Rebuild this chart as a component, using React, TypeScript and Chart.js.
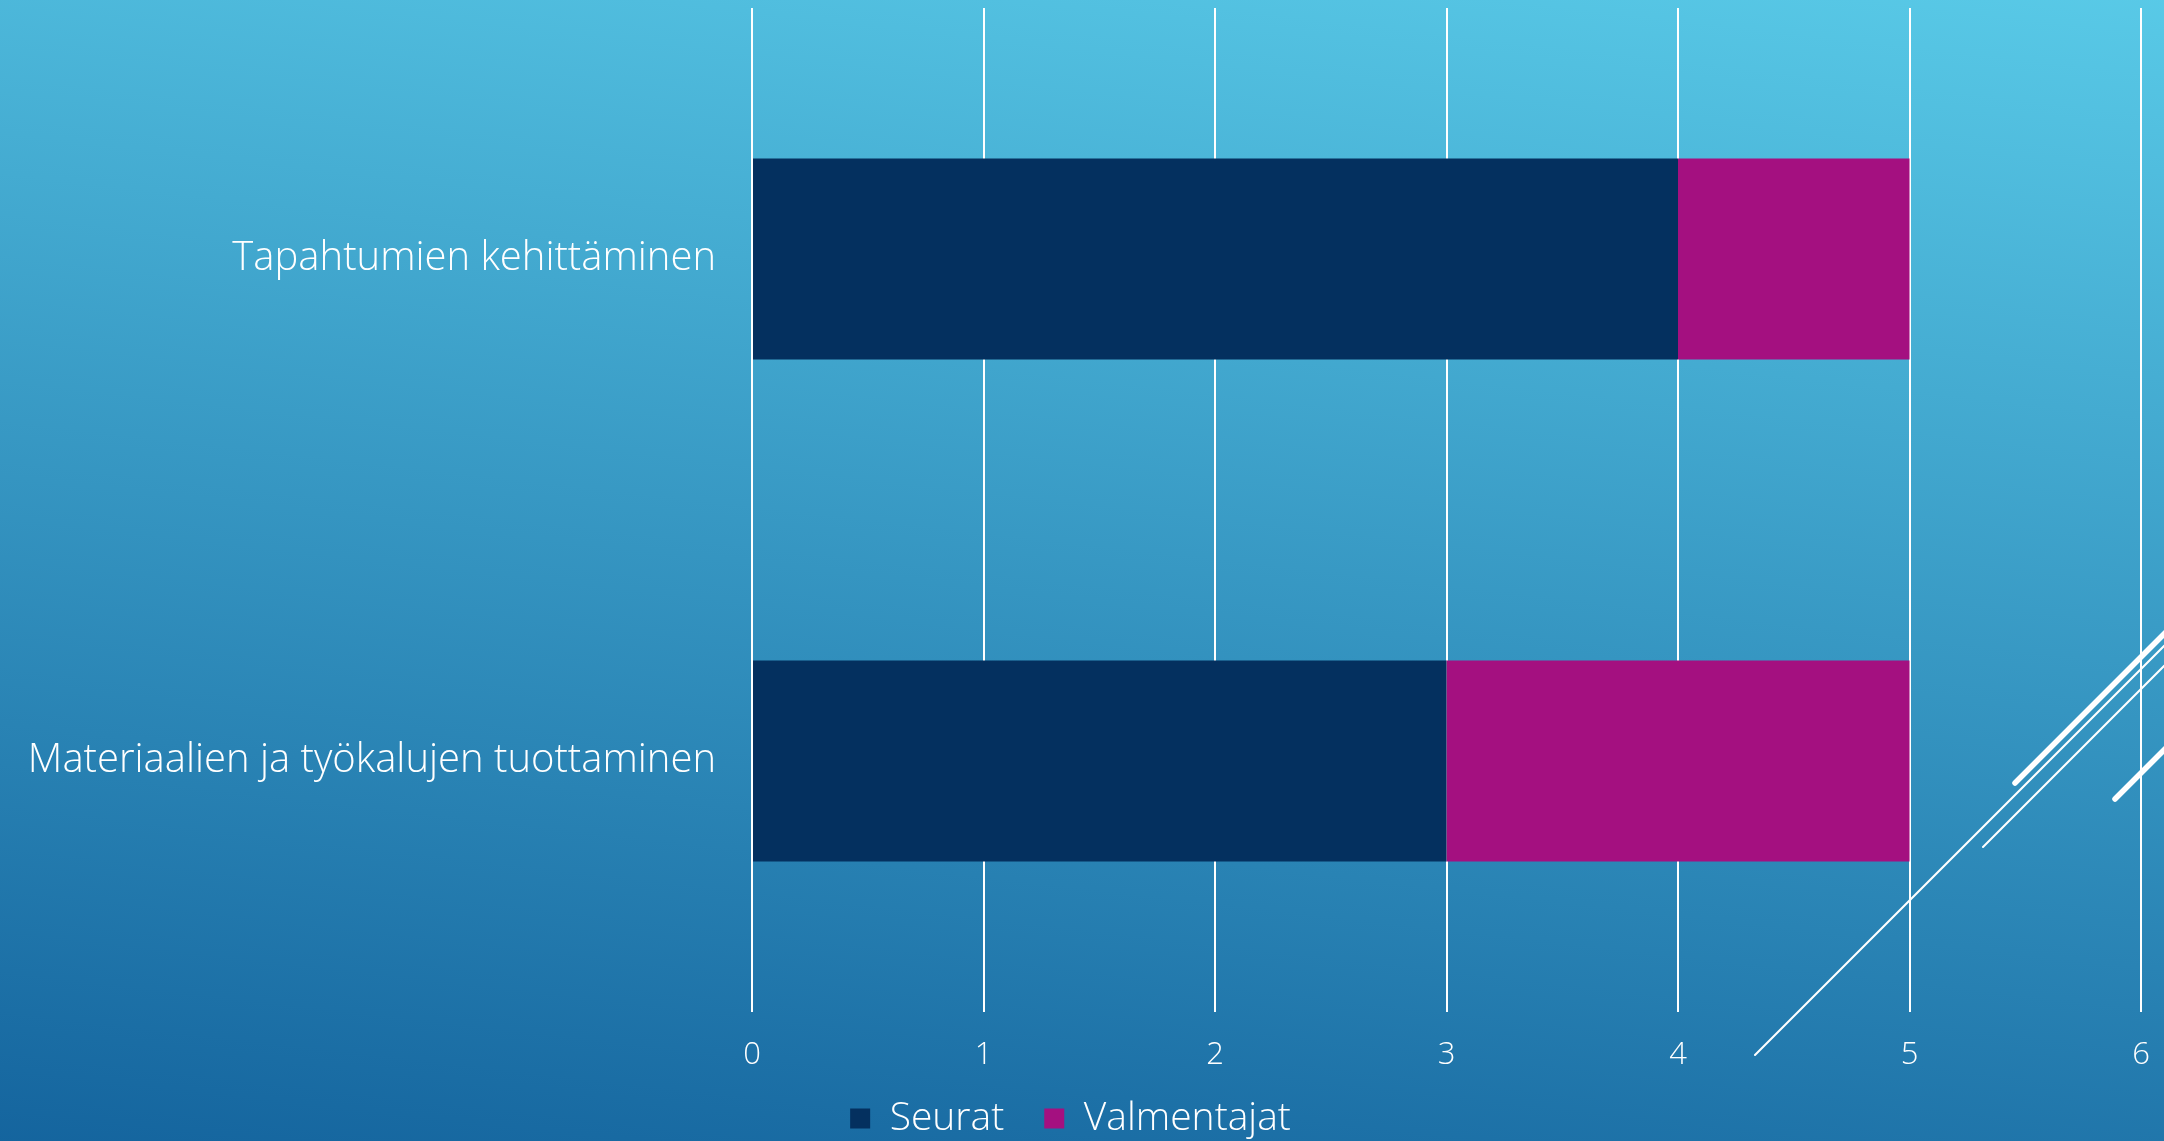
import React, { useEffect, useRef } from "react";
import { Chart, registerables } from "chart.js";

Chart.register(...registerables);

// ---- data ----
const categories = ["Tapahtumien kehittäminen", "Materiaalien ja työkalujen tuottaminen"];
const seriesNames = ["Seurat", "Valmentajat"];
const seuratValues = [4, 3];
const valmentajatValues = [1, 2];
const xMin = 0;
const xMax = 6;
const xStep = 1;

// ---- styles ----
const W = 2164;
const H = 1141;
const FONT = "'Open Sans', Lato, 'DejaVu Sans', sans-serif";
const seriesColors = ["#04305F", "#A41080"];

const clamp = (v: number) => Math.max(0, Math.min(255, Math.round(v)));

const backgroundPlugin = {
  id: "slideBackground",
  beforeDraw(chart: any) {
    const { ctx, width, height } = chart;
    const p0 = { x: width * 0.53, y: 0 };
    const p1 = { x: width * 0.47, y: height };
    const ext = 0.25;
    const dx = p1.x - p0.x;
    const dy = p1.y - p0.y;
    const c0 = [83, 193, 225];
    const c1 = [26, 109, 164];
    const at = (t: number) =>
      `rgb(${c0.map((v, i) => clamp(v + (c1[i] - v) * t)).join(",")})`;
    const g = ctx.createLinearGradient(
      p0.x - dx * ext,
      p0.y - dy * ext,
      p1.x + dx * ext,
      p1.y + dy * ext
    );
    g.addColorStop(0, at(-ext));
    g.addColorStop(1, at(1 + ext));
    ctx.save();
    ctx.fillStyle = g;
    ctx.fillRect(0, 0, width, height);
    ctx.restore();
  },
};

// decorative template strokes (slide design, not data)
const decorLines = [
  { x0: 1755, y0: 1055, len: 460, w: 2 },
  { x0: 2015, y0: 783, len: 200, w: 5.5 },
  { x0: 1983, y0: 847, len: 260, w: 2 },
  { x0: 2115, y0: 799, len: 100, w: 5.5 },
];

const decorPlugin = {
  id: "slideDecor",
  afterDraw(chart: any) {
    const { ctx } = chart;
    ctx.save();
    ctx.strokeStyle = "#ffffff";
    ctx.lineCap = "round";
    decorLines.forEach((l) => {
      ctx.lineWidth = l.w;
      ctx.beginPath();
      ctx.moveTo(l.x0, l.y0);
      ctx.lineTo(l.x0 + l.len, l.y0 - l.len);
      ctx.stroke();
    });
    ctx.restore();
  },
};

export default function App() {
  const ref = useRef<HTMLCanvasElement | null>(null);

  useEffect(() => {
    document.body.style.margin = "0";
    if (!ref.current) return;
    const chart = new Chart(ref.current, {
      type: "bar",
      data: {
        labels: categories,
        datasets: [
          {
            label: seriesNames[0],
            data: seuratValues,
            backgroundColor: seriesColors[0],
            borderWidth: 0,
            categoryPercentage: 0.4,
            barPercentage: 1,
          },
          {
            label: seriesNames[1],
            data: valmentajatValues,
            backgroundColor: seriesColors[1],
            borderWidth: 0,
            categoryPercentage: 0.4,
            barPercentage: 1,
          },
        ],
      },
      options: {
        indexAxis: "y",
        responsive: false,
        animation: false,
        devicePixelRatio: 1,
        layout: { padding: { top: 8, right: 23, left: 0, bottom: -7 } },
        scales: {
          x: {
            stacked: true,
            min: xMin,
            max: xMax,
            ticks: {
              stepSize: xStep,
              color: "#ffffff",
              font: { family: FONT, size: 31, weight: "300" },
              padding: 25,
            },
            grid: { color: "#ffffff", lineWidth: 2, drawTicks: false },
            border: { display: false },
            afterFit: (s: any) => {
              s.height = 47;
              s.paddingLeft = 0;
              s.paddingRight = 0;
              // let tick labels overflow into the legend band (no clipping)
              s._computeLabelArea = () => undefined;
            },
          },
          y: {
            stacked: true,
            ticks: {
              color: "#ffffff",
              font: { family: FONT, size: 40, weight: "300" },
              padding: 36,
            },
            grid: { display: false, drawTicks: false },
            border: { display: false },
            afterFit: (s: any) => {
              s.width = 752;
              s.paddingTop = 0;
              s.paddingBottom = 0;
            },
          },
        },
        plugins: {
          legend: {
            position: "bottom",
            labels: {
              color: "#ffffff",
              boxWidth: 20,
              boxHeight: 20,
              padding: 40,
              font: { family: FONT, size: 39, weight: "300" },
            },
          },
          tooltip: { enabled: false },
        },
      },
      plugins: [backgroundPlugin, decorPlugin],
    } as any);
    return () => chart.destroy();
  }, []);

  return (
    <div style={{ position: "fixed", left: 0, top: 0, width: W, height: H }}>
      <canvas ref={ref} width={W} height={H} style={{ width: W, height: H, display: "block" }} />
    </div>
  );
}
